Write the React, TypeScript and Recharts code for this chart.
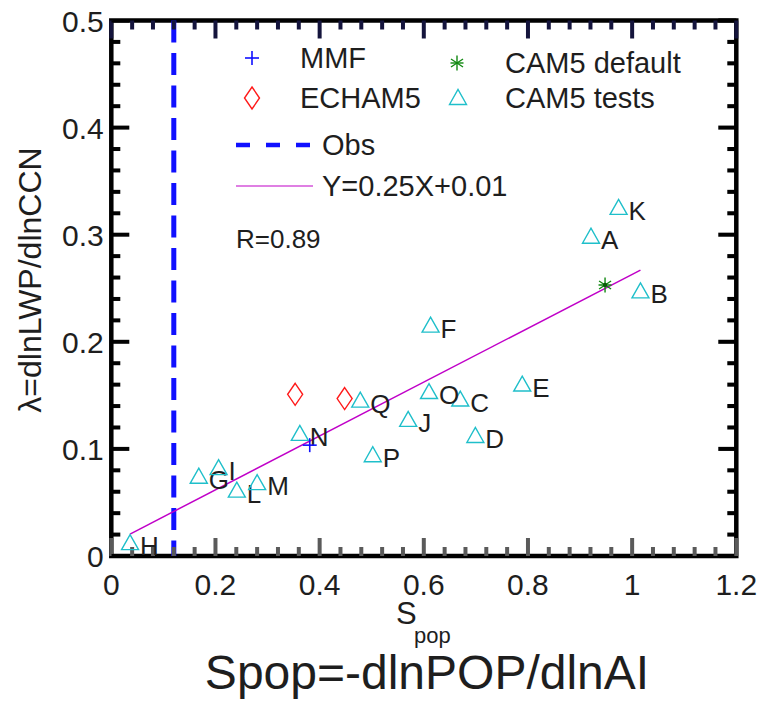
import React from 'react';
import { ScatterChart, Scatter, XAxis, YAxis, ReferenceLine, ReferenceArea } from 'recharts';

// ---------- data ----------
const testNames = ['A', 'B', 'C', 'D', 'E', 'F', 'G', 'H', 'I', 'J', 'K', 'L', 'M', 'N', 'O', 'P', 'Q'];
const testX = [0.921, 1.016, 0.670, 0.699, 0.789, 0.613, 0.168, 0.036, 0.206, 0.570, 0.974, 0.241, 0.280, 0.362, 0.610, 0.502, 0.478];
const testY = [0.299, 0.248, 0.147, 0.113, 0.161, 0.216, 0.075, 0.013, 0.083, 0.128, 0.326, 0.062, 0.069, 0.115, 0.154, 0.095, 0.146];

const mmfX = [0.381];
const mmfY = [0.1035];
const echamX = [0.353, 0.448];
const echamY = [0.151, 0.147];
const camDefaultX = [0.948];
const camDefaultY = [0.253];
const obsX = 0.12;
const fitX = [0.036, 1.016];
const fitY = [0.0205, 0.267];

const xTicks = [0, 0.04, 0.08, 0.12, 0.16, 0.2, 0.24, 0.28, 0.32, 0.36, 0.4, 0.44, 0.48, 0.52, 0.56, 0.6, 0.64, 0.68, 0.72, 0.76, 0.8, 0.84, 0.88, 0.92, 0.96, 1, 1.04, 1.08, 1.12, 1.16, 1.2];
const xMajor = [0, 0.2, 0.4, 0.6, 0.8, 1, 1.2];
const xMajorLabels = ['0', '0.2', '0.4', '0.6', '0.8', '1', '1.2'];
const yTicks = [0, 0.02, 0.04, 0.06, 0.08, 0.1, 0.12, 0.14, 0.16, 0.18, 0.2, 0.22, 0.24, 0.26, 0.28, 0.3, 0.32, 0.34, 0.36, 0.38, 0.4, 0.42, 0.44, 0.46, 0.48, 0.5];
const yMajor = [0, 0.1, 0.2, 0.3, 0.4, 0.5];
const yMajorLabels = ['0', '0.1', '0.2', '0.3', '0.4', '0.5'];
const xMin = 0;
const xMax = 1.2;
const yMin = 0;
const yMax = 0.5;

const legendLabels = ['MMF', 'ECHAM5', 'CAM5 default', 'CAM5 tests', 'Obs', 'Y=0.25X+0.01'];
const corrText = 'R=0.89';
const xLabelMain = 'S';
const xLabelSub = 'pop';
const yLabel = 'λ=dlnLWP/dlnCCN';
const titleText = 'Spop=-dlnPOP/dlnAI';

const isIn = (arr: number[], v: number) => arr.findIndex((m) => Math.abs(m - v) < 1e-6);

const tests = testNames.map((n, i) => ({ name: n, x: testX[i], y: testY[i] }));
const mmf = mmfX.map((x, i) => ({ x, y: mmfY[i] }));
const echam = echamX.map((x, i) => ({ x, y: echamY[i] }));
const camDefault = camDefaultX.map((x, i) => ({ x, y: camDefaultY[i] }));
const fit = fitX.map((x, i) => ({ x, y: fitY[i] }));

const leftTicks = yTicks.map((v) => ({ x: xMin, y: v, major: isIn(yMajor, v) >= 0 }));
// tick lengths in axis data units
const TICK_DY_MAJOR = 0.0168;
const TICK_DY_MINOR = 0.0084;
const TICK_DX_MAJOR = 0.0346;
const TICK_DX_MINOR = 0.0173;
const TICK_HALF_DY = 0.0019;

// ---------- styles ----------
const FONT = '"Liberation Sans", Arial, Helvetica, sans-serif';
const TXT = '#1e1e1e';
const CYAN = '#1fbfca';
const RED = '#ff1a1a';
const BLUE = '#1010ff';
const GREEN = '#118811';
const MAGENTA = '#c000c8';

const W = 759;
const H = 714;

const triPath = (cx: number, cy: number) =>
  `M${cx - 8.5},${cy + 7.5} L${cx},${cy - 7.5} L${cx + 8.5},${cy + 7.5} Z`;

const TriShape = (props: any) => {
  const { cx, cy, payload } = props;
  return (
    <g>
      <path d={triPath(cx, cy)} fill="none" stroke={CYAN} strokeWidth={1.4} />
      <text x={cx + 10} y={cy + 13} fontSize={26} fontFamily={FONT} fill={TXT}>
        {payload.name}
      </text>
    </g>
  );
};

const diamondPath = (cx: number, cy: number) =>
  `M${cx},${cy - 11} L${cx + 7.5},${cy} L${cx},${cy + 11} L${cx - 7.5},${cy} Z`;

const DiamondShape = (props: any) => {
  const { cx, cy } = props;
  return <path d={diamondPath(cx, cy)} fill="none" stroke={RED} strokeWidth={1.4} />;
};

const PlusShape = (props: any) => {
  const { cx, cy } = props;
  return (
    <g stroke={BLUE} strokeWidth={1.6}>
      <line x1={cx - 7} x2={cx + 7} y1={cy} y2={cy} />
      <line x1={cx} x2={cx} y1={cy - 7} y2={cy + 7} />
    </g>
  );
};

const StarMark = ({ cx, cy }: { cx: number; cy: number }) => (
  <g stroke={GREEN} strokeWidth={1.4}>
    <line x1={cx} x2={cx} y1={cy - 7.5} y2={cy + 7.5} />
    <line x1={cx - 6} x2={cx + 6} y1={cy - 4} y2={cy + 4} />
    <line x1={cx - 6} x2={cx + 6} y1={cy + 4} y2={cy - 4} />
    <line x1={cx - 6.5} x2={cx + 6.5} y1={cy} y2={cy} />
  </g>
);

const StarShape = (props: any) => {
  const { cx, cy } = props;
  return (
    <g>
      <StarMark cx={cx} cy={cy} />
      <circle cx={cx} cy={cy} r={2.2} fill="#0a5a0a" />
    </g>
  );
};

const NoShape = () => <g />;

const TickLeft = (props: any) => {
  const { cx, cy, payload } = props;
  const len = payload && payload.major ? 18 : 9;
  return (
    <g>
      <rect x={cx} y={cy - 2} width={len} height={4} fill="#000" fillOpacity={0.99} />
    </g>
  );
};

const BottomLabel = (props: any) => {
  const { x, y, payload } = props;
  const idx = isIn(xMajor, payload.value);
  if (idx < 0) return <g />;
  return (
    <text x={x} y={y + 39} textAnchor="middle" fontSize={30} fontFamily={FONT} fill={TXT}>
      {xMajorLabels[idx]}
    </text>
  );
};

const LeftLabel = (props: any) => {
  const { x, y, payload } = props;
  const idx = isIn(yMajor, payload.value);
  if (idx < 0) return <g />;
  return (
    <text x={x - 7.5} y={y + 11} textAnchor="end" fontSize={30} fontFamily={FONT} fill={TXT}>
      {yMajorLabels[idx]}
    </text>
  );
};

const Overlay = () => (
  <g fontFamily={FONT} fill={TXT}>
    <PlusShape cx={252} cy={58} />
    <text x={300} y={68} fontSize={29}>{legendLabels[0]}</text>
    <path d={diamondPath(252, 98)} fill="none" stroke={RED} strokeWidth={1.4} />
    <text x={300} y={108} fontSize={29}>{legendLabels[1]}</text>
    <StarMark cx={457} cy={63} />
    <text x={505} y={73} fontSize={29}>{legendLabels[2]}</text>
    <path d={triPath(458, 97)} fill="none" stroke={CYAN} strokeWidth={1.4} />
    <text x={505} y={108} fontSize={29}>{legendLabels[3]}</text>
    <line x1={236} x2={310} y1={145} y2={145} stroke={BLUE} strokeWidth={4.5} strokeDasharray="14 16" />
    <text x={322} y={155} fontSize={29}>{legendLabels[4]}</text>
    <line x1={236} x2={313} y1={186} y2={186} stroke={MAGENTA} strokeWidth={1.2} />
    <text x={322} y={196} fontSize={29}>{legendLabels[5]}</text>
    <text x={236} y={248} fontSize={26}>{corrText}</text>
    <text x={396} y={624} fontSize={31}>{xLabelMain}</text>
    <text x={414} y={643} fontSize={22}>{xLabelSub}</text>
    <text transform="translate(41,280) rotate(-90)" textAnchor="middle" fontSize={32}>{yLabel}</text>
    <text x={427} y={689} textAnchor="middle" fontSize={48}>{titleText}</text>
  </g>
);

export default function App() {
  return (
    <div style={{ position: 'absolute', left: 0, top: 0, width: W, height: H, background: '#fff' }}>
      <ScatterChart
        width={W}
        height={H}
        margin={{ top: 20.5, right: 22.7, bottom: 118, left: 51.3 }}
        style={{ background: '#fff' }}
      >
        <XAxis
          xAxisId="b"
          type="number"
          dataKey="x"
          domain={[xMin, xMax]}
          allowDataOverflow
          ticks={xMajor}
          interval={0}
          tickSize={0}
          tickMargin={0}
          axisLine={false}
          tickLine={false}
          tick={BottomLabel}
          height={40}
        />
        <YAxis
          yAxisId="l"
          type="number"
          dataKey="y"
          domain={[yMin, yMax]}
          allowDataOverflow
          ticks={yMajor}
          interval={0}
          tickSize={0}
          tickMargin={0}
          axisLine={false}
          tickLine={false}
          tick={LeftLabel}
          width={60}
        />
        <ReferenceLine
          xAxisId="b"
          yAxisId="l"
          segment={[{ x: obsX, y: yMax }, { x: obsX, y: yMin }]}
          stroke={BLUE}
          strokeWidth={5}
          strokeDasharray="22 10.5"
        />
        {xTicks.map((v) => {
          const d = isIn(xMajor, v) >= 0 ? TICK_DY_MAJOR : TICK_DY_MINOR;
          return (
            <ReferenceLine
              key={`b${v}`}
              xAxisId="b"
              yAxisId="l"
              segment={[{ x: v, y: yMin }, { x: v, y: yMin + d }]}
              stroke="#5a5a5a"
              strokeWidth={4}
            />
          );
        })}
        {xTicks.map((v) => {
          const d = isIn(xMajor, v) >= 0 ? TICK_DY_MAJOR : TICK_DY_MINOR;
          return (
            <ReferenceLine
              key={`t${v}`}
              xAxisId="b"
              yAxisId="l"
              segment={[{ x: v, y: yMax }, { x: v, y: yMax - d }]}
              stroke="#14143c"
              strokeWidth={4}
            />
          );
        })}
        {yTicks.map((v) => {
          const d = isIn(yMajor, v) >= 0 ? TICK_DX_MAJOR : TICK_DX_MINOR;
          return (
            <ReferenceArea
              key={`r${v}`}
              xAxisId="b"
              yAxisId="l"
              x1={xMax - d}
              x2={xMax}
              y1={v - TICK_HALF_DY}
              y2={v + TICK_HALF_DY}
              ifOverflow="visible"
              fill="#000"
              fillOpacity={1}
              stroke="none"
            />
          );
        })}
        <Scatter
          xAxisId="b"
          yAxisId="l"
          data={fit}
          line={{ stroke: MAGENTA, strokeWidth: 1.5 }}
          shape={NoShape}
          isAnimationActive={false}
        />
        <Scatter xAxisId="b" yAxisId="l" data={tests} shape={TriShape} isAnimationActive={false} />
        <Scatter xAxisId="b" yAxisId="l" data={echam} shape={DiamondShape} isAnimationActive={false} />
        <Scatter xAxisId="b" yAxisId="l" data={mmf} shape={PlusShape} isAnimationActive={false} />
        <Scatter xAxisId="b" yAxisId="l" data={camDefault} shape={StarShape} isAnimationActive={false} />
        <Scatter xAxisId="b" yAxisId="l" data={leftTicks} shape={TickLeft} isAnimationActive={false} />
        <ReferenceArea
          xAxisId="b"
          yAxisId="l"
          x1={xMin}
          x2={xMax}
          y1={yMin}
          y2={yMax}
          fill="none"
          fillOpacity={0}
          stroke="#000"
          strokeWidth={4.5}
        />
        <Overlay />
      </ScatterChart>
    </div>
  );
}
